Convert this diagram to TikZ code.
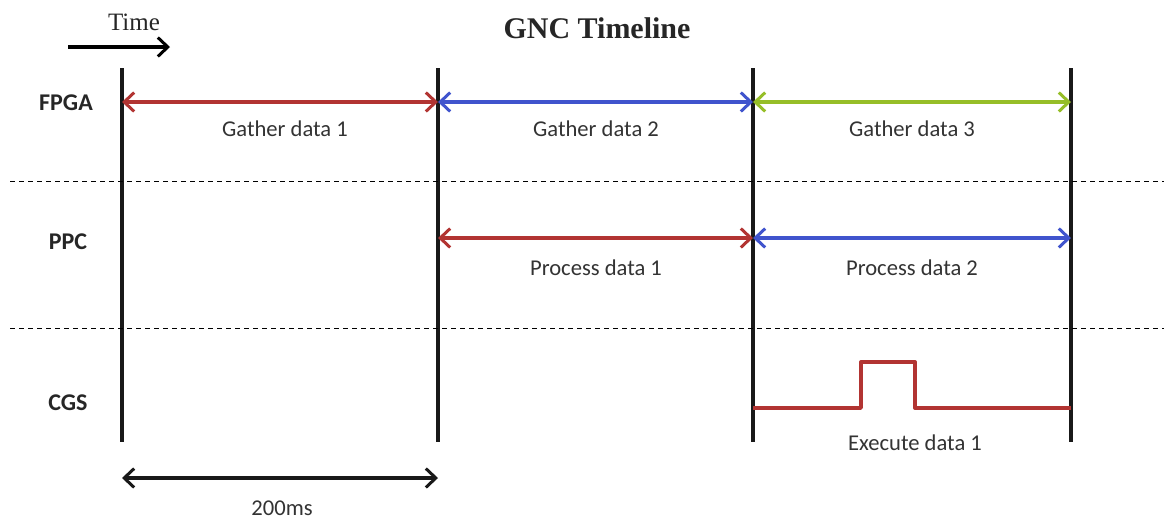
\documentclass[tikz,border=0pt]{standalone}
\usepackage{fontspec}
\setmainfont{Carlito}
\newfontfamily\titlefont{Liberation Serif}
\usetikzlibrary{arrows.meta}
\definecolor{gncred}{RGB}{178,52,50}
\definecolor{gncblue}{RGB}{64,84,205}
\definecolor{gncgreen}{RGB}{150,190,40}
\tikzset{
  barb/.tip={Straight Barb[length=10pt,width=19pt,line width=3pt]},
  tick/.style={line width=3.4pt, black!90},
  lane/.style={line width=1pt, dash pattern=on 5pt off 4pt},
  span/.style={line width=3.2pt, {barb}-{barb}},
  lbl/.style={font=\fontsize{22.6}{26}\selectfont, text=black!80},
  rowname/.style={font=\fontsize{24}{27}\selectfont\bfseries, text=black!85},
}
\begin{document}
\begin{tikzpicture}[x=1pt,y=-1pt]
\useasboundingbox (0,0) rectangle (1164,523);

% header
\node[font=\titlefont\fontsize{25}{28}\selectfont, text=black!85] (time) at (134,22) {Time};
\coordinate (ts) at (68,47);
\coordinate (te) at (170,47);
\draw[line width=3.6pt, -{barb}] (ts) -- (te);
\node[font=\titlefont\bfseries\fontsize{30}{33}\selectfont, text=black!85] (title) at (597,28) {GNC Timeline};

% phase boundaries
\foreach \n/\x in {a/122,b/438,c/753,d/1071}{
  \coordinate (\n top) at (\x,68);
  \coordinate (\n bot) at (\x,442);
  \coordinate (\n1) at (\x,102);
  \coordinate (\n2) at (\x,238);
  \coordinate (\n3) at (\x,408);
  \draw[tick] (\n top) -- (\n bot);
}

% lane separators
\coordinate (s1l) at (10,181); \coordinate (s1r) at (1164,181);
\coordinate (s2l) at (10,328); \coordinate (s2r) at (1164,328);
\draw[lane] (s1l) -- (s1r);
\draw[lane] (s2l) -- (s2r);

% row names
\node[rowname] (fpga) at (66,103) {FPGA};
\node[rowname] (ppc) at (68,242) {PPC};
\node[rowname] (cgs) at (68,403) {CGS};

% FPGA row
\draw[span, gncred] (a1) -- (b1);
\draw[span, gncblue] (b1) -- (c1);
\draw[span, gncgreen] (c1) -- (d1);
\node[lbl] (g1) at (285,129) {Gather data 1};
\node[lbl] (g2) at (596,129) {Gather data 2};
\node[lbl] (g3) at (912,129) {Gather data 3};

% PPC row
\draw[span, gncred] (b2) -- (c2);
\draw[span, gncblue] (c2) -- (d2);
\node[lbl] (p1) at (596,268) {Process data 1};
\node[lbl] (p2) at (912,268) {Process data 2};

% CGS row: execution pulse
\coordinate (up) at (861,408);
\coordinate (uptop) at (861,362);
\coordinate (dn) at (915,362);
\coordinate (dnbot) at (915,408);
\draw[gncred, line width=3.4pt, line join=round] (c3) -- (up) -- (uptop) -- (dn) -- (dnbot) -- (d3);
\node[lbl] (e1) at (915,443) {Execute data 1};

% period scale
\coordinate (pl) at (122,478);
\coordinate (pr) at (438,478);
\draw[span, black!90] (pl) -- (pr);
\node[lbl] (period) at (282,508) {200ms};
\end{tikzpicture}
\end{document}
